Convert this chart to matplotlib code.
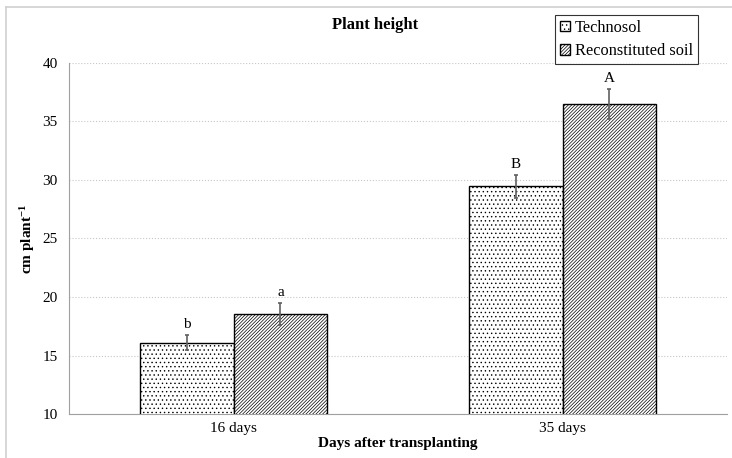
import matplotlib.pyplot as plt
import numpy as np
from matplotlib.lines import Line2D

plt.rcParams['font.family'] = ['Liberation Serif', 'DejaVu Serif']
plt.rcParams['mathtext.fontset'] = 'custom'
plt.rcParams['mathtext.rm'] = 'Liberation Serif'
plt.rcParams['mathtext.bf'] = 'Liberation Serif:bold'
plt.rcParams['hatch.linewidth'] = 0.5

categories = ['16 days', '35 days']
technosol = [16.1, 29.45]
technosol_err = [0.65, 1.0]
reconst = [18.55, 36.5]
reconst_err = [0.95, 1.3]
letters_tech = ['b', 'B']
letters_rec = ['a', 'A']

fig = plt.figure(figsize=(7.32, 4.58), dpi=100)
ax = fig.add_axes([0.0943, 0.096, 0.899, 0.7666])

x = np.arange(len(categories))
w = 0.285
err_kw = dict(ecolor='#606060', elinewidth=1.2, capsize=1.5, capthick=1.2)
b1 = ax.bar(x - w / 2, technosol, w, yerr=technosol_err, color='white',
            edgecolor='black', linewidth=1.0, hatch='....', error_kw=err_kw,
            label='Technosol', zorder=3)
b2 = ax.bar(x + w / 2, reconst, w, yerr=reconst_err, color='white',
            edgecolor='black', linewidth=1.0, hatch='//////////', error_kw=err_kw,
            label='Reconstituted soil', zorder=3)

for i in range(len(categories)):
    ax.text(x[i] - w / 2, technosol[i] + technosol_err[i] + 0.35, letters_tech[i],
            ha='center', va='bottom', fontsize=11)
    ax.text(x[i] + w / 2, reconst[i] + reconst_err[i] + 0.35, letters_rec[i],
            ha='center', va='bottom', fontsize=11)

ax.set_ylim(10, 40)
ax.set_xlim(-0.5, 1.5)
ax.set_yticks(range(10, 41, 5))
ax.set_xticks(x)
ax.set_xticklabels(categories)
ax.tick_params(axis='both', labelsize=11, length=0, colors='black')
ax.tick_params(axis='y', pad=8)
ax.tick_params(axis='x', pad=6)
ax.yaxis.grid(True, linestyle=':', color='#c8c8c8', linewidth=0.8, zorder=0)
ax.set_axisbelow(True)
for s in ['top', 'right']:
    ax.spines[s].set_visible(False)
for s in ['left', 'bottom']:
    ax.spines[s].set_color('#a0a0a0')
    ax.spines[s].set_linewidth(0.8)

ax.set_ylabel(r'cm plant$\mathbf{^{-1}}$', fontsize=11, fontweight='bold', labelpad=4)
ax.set_xlabel('Days after transplanting', fontsize=11, fontweight='bold', labelpad=1)

fig.text(0.513, 0.945, 'Plant height', ha='center', va='center', fontsize=12,
         fontweight='bold')

leg = fig.legend(handles=[b1, b2], loc='upper left', bbox_to_anchor=(0.758, 0.967),
                 borderaxespad=0, fontsize=11.8, frameon=True, fancybox=False,
                 edgecolor='black', handlelength=0.6, handleheight=0.6,
                 handletextpad=0.3, borderpad=0.3, labelspacing=0.45)
leg.get_frame().set_linewidth(0.8)

# chart area border
fig.add_artist(Line2D([6 / 732, 6 / 732], [0, 1 - 7 / 458], transform=fig.transFigure,
                      color='#d0d0d0', linewidth=1.2))
fig.add_artist(Line2D([6 / 732, 1], [1 - 7 / 458, 1 - 7 / 458], transform=fig.transFigure,
                      color='#d0d0d0', linewidth=1.2))

fig.savefig('out.png', dpi=100)
